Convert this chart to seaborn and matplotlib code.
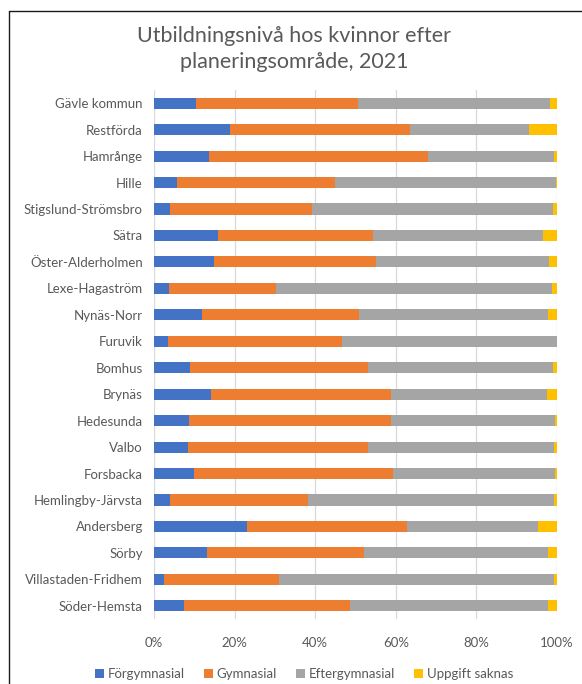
import matplotlib
matplotlib.use("Agg")
import matplotlib.pyplot as plt
from matplotlib.lines import Line2D
from matplotlib.patches import Patch
from matplotlib.ticker import PercentFormatter
import seaborn as sns
import pandas as pd

areas = ["Gävle kommun", "Restförda", "Hamrånge", "Hille", "Stigslund-Strömsbro",
         "Sätra", "Öster-Alderholmen", "Lexe-Hagaström", "Nynäs-Norr", "Furuvik",
         "Bomhus", "Brynäs", "Hedesunda", "Valbo", "Forsbacka",
         "Hemlingby-Järvsta", "Andersberg", "Sörby", "Villastaden-Fridhem", "Söder-Hemsta"]

# Shares in percent per education level
forgymnasial = [10.3, 18.9, 13.7, 5.6, 4.0, 15.8, 15.0, 3.7, 11.8, 3.5,
                9.0, 14.2, 8.6, 8.5, 10.0, 4.0, 23.1, 13.2, 2.6, 7.5]
gymnasial = [40.4, 44.5, 54.3, 39.4, 35.2, 38.6, 40.2, 26.6, 39.0, 43.1,
             44.1, 44.5, 50.2, 44.5, 49.3, 34.2, 39.6, 38.8, 28.3, 41.1]
eftergymnasial = [47.6, 29.6, 31.3, 54.7, 59.7, 42.2, 42.9, 68.5, 46.9, 53.4,
                  45.9, 38.8, 40.7, 46.3, 40.1, 61.1, 32.6, 45.8, 68.4, 49.2]
uppgift_saknas = [1.7, 7.0, 0.7, 0.3, 1.1, 3.4, 1.9, 1.2, 2.3, 0.0,
                  1.0, 2.5, 0.5, 0.7, 0.6, 0.7, 4.7, 2.2, 0.7, 2.2]

series = ["Förgymnasial", "Gymnasial", "Eftergymnasial", "Uppgift saknas"]
colors = ["#4472C4", "#ED7D31", "#A5A5A5", "#FFC000"]
text_color = "#595959"

df = pd.DataFrame({"Område": areas, "Förgymnasial": forgymnasial,
                   "Gymnasial": gymnasial, "Eftergymnasial": eftergymnasial,
                   "Uppgift saknas": uppgift_saknas})
cum = df[series].cumsum(axis=1)
cum = cum.div(cum["Uppgift saknas"], axis=0) * 100

sns.set_theme(style="white")
plt.rcParams["font.family"] = ["Lato", "DejaVu Sans"]

fig = plt.figure(figsize=(5.82, 6.84), dpi=100)
ax = fig.add_axes([154 / 582, 1 - 619 / 684, 403 / 582, 529 / 684])

# stacked bars: draw cumulative totals from the outermost segment inwards
for name, col in reversed(list(zip(series, colors))):
    sns.barplot(x=cum[name], y=df["Område"], orient="h", color=col,
                width=0.42, ax=ax, saturation=1, linewidth=0, zorder=3)

ax.set_xlim(0, 100)
ax.set_xticks([0, 20, 40, 60, 80, 100])
ax.xaxis.set_major_formatter(PercentFormatter(decimals=0))
ax.grid(axis="x", color="#D9D9D9", linewidth=0.9, zorder=0)
ax.set_axisbelow(True)
for s in ax.spines.values():
    s.set_visible(False)
ax.set_xlabel("")
ax.set_ylabel("")
ax.tick_params(axis="both", length=0, colors=text_color, labelsize=9.5)
ax.tick_params(axis="x", pad=13)
ax.tick_params(axis="y", pad=8)

fig.text(294 / 582, 1 - 36 / 684, "Utbildningsnivå hos kvinnor efter",
         ha="center", va="center", fontsize=15.5, color=text_color)
fig.text(294 / 582, 1 - 62 / 684, "planeringsområde, 2021",
         ha="center", va="center", fontsize=15.5, color=text_color)

handles = [Patch(facecolor=c, edgecolor="none", label=s) for s, c in zip(series, colors)]
fig.legend(handles=handles, loc="center", bbox_to_anchor=(304 / 582, 1 - 674 / 684),
           ncol=4, frameon=False, fontsize=9.5, handlelength=0.7, handleheight=0.7,
           handletextpad=0.3, columnspacing=1.4, labelcolor=text_color)

# chart frame (left and top edges)
fig.add_artist(Line2D([8.5 / 582, 8.5 / 582], [0, 1 - 10.5 / 684], color="#1a1a1a",
                      linewidth=1.0, transform=fig.transFigure))
fig.add_artist(Line2D([8.5 / 582, 1], [1 - 10.5 / 684, 1 - 10.5 / 684], color="#1a1a1a",
                      linewidth=1.0, transform=fig.transFigure))

fig.savefig("out.png", dpi=100, facecolor="white")
